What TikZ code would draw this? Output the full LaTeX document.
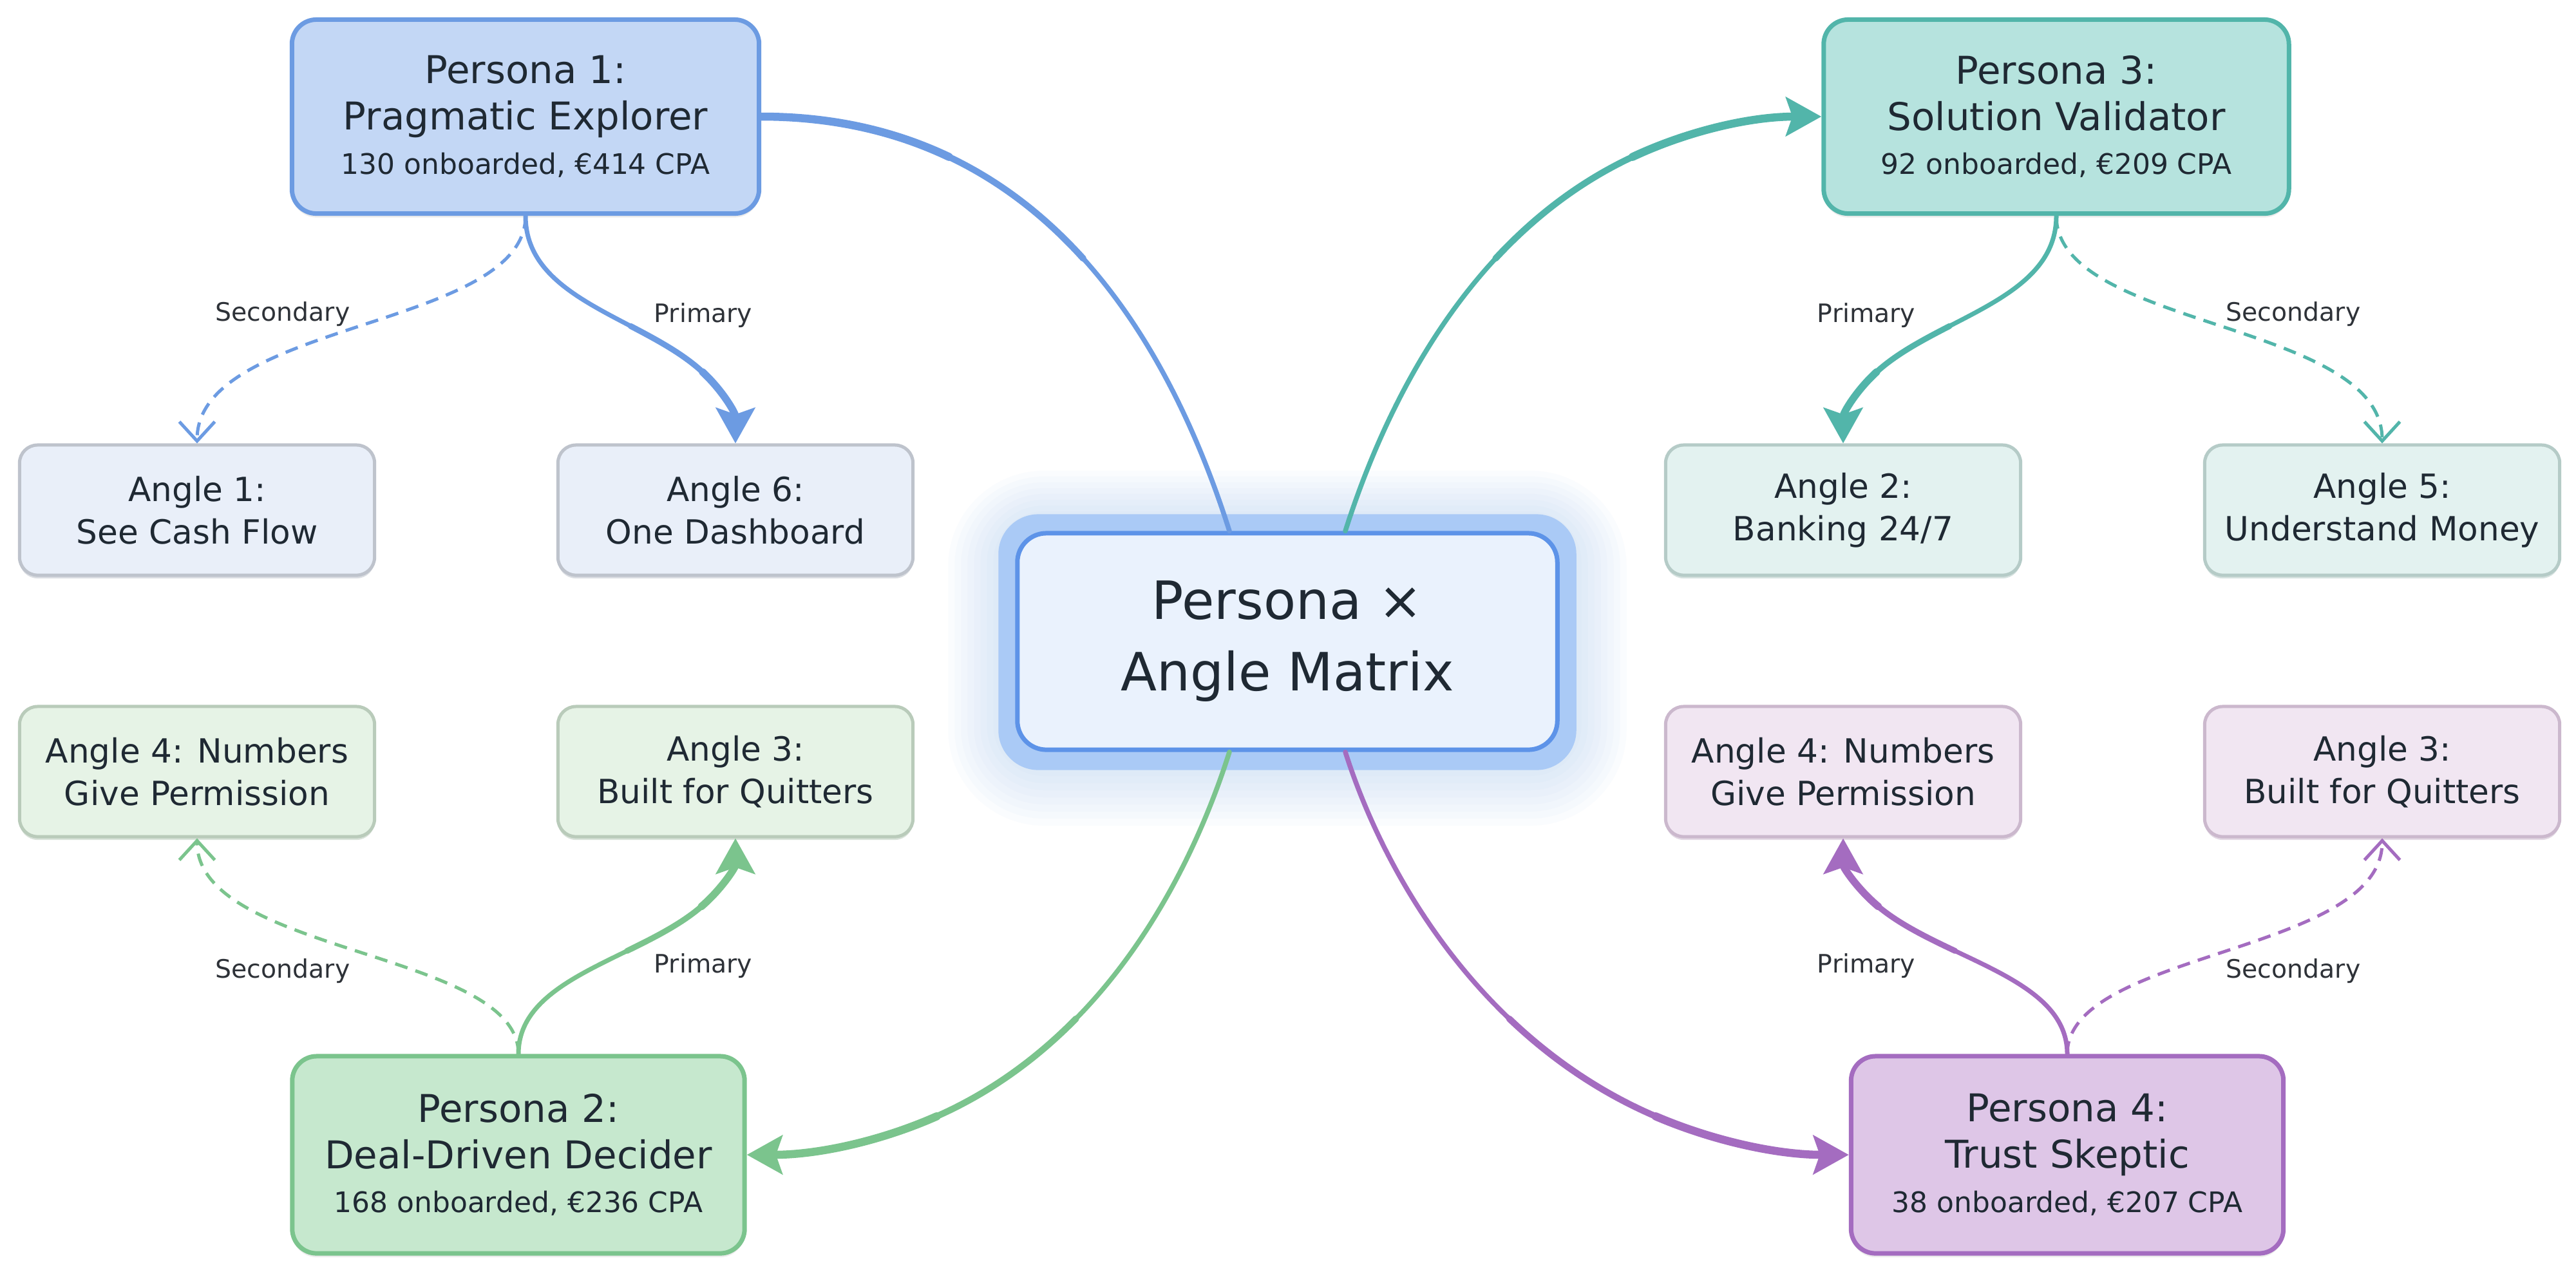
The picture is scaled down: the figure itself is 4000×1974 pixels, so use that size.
\documentclass[tikz,border=0pt]{standalone}
\usepackage{fontspec}
\setmainfont{DejaVu Sans}
\usetikzlibrary{arrows.meta,calc,shadows,backgrounds}

\definecolor{cblue}{HTML}{6C9BE2}
\definecolor{cteal}{HTML}{52B5AA}
\definecolor{cgreen}{HTML}{7BC48D}
\definecolor{cpurple}{HTML}{A46CC0}
\definecolor{fblue}{HTML}{C3D7F5}
\definecolor{fteal}{HTML}{B6E3DE}
\definecolor{fgreen}{HTML}{C6E8CE}
\definecolor{fpurple}{HTML}{DEC6E7}
\definecolor{afblue}{HTML}{E9EFF9}
\definecolor{abblue}{HTML}{BEC3CC}
\definecolor{afteal}{HTML}{E3F2F0}
\definecolor{abteal}{HTML}{B5CBC7}
\definecolor{afgreen}{HTML}{E6F3E6}
\definecolor{abgreen}{HTML}{B9CBBA}
\definecolor{afpurple}{HTML}{F1E6F2}
\definecolor{abpurple}{HTML}{CBB8CD}
\definecolor{cfill}{HTML}{EAF2FD}
\definecolor{cborder}{HTML}{5D93E8}
\definecolor{cglow}{HTML}{AACAF6}
\definecolor{txt}{HTML}{1F2933}
\definecolor{labtxt}{HTML}{2E3238}

\newcommand{\fPT}{\fontsize{16.9}{20.5}\selectfont}
\newcommand{\fPS}{\fontsize{12.5}{17}\selectfont}
\newcommand{\fAN}{\fontsize{14.7}{18.8}\selectfont}
\newcommand{\fCE}{\fontsize{23.3}{31.6}\selectfont}
\newcommand{\fLB}{\fontsize{11.2}{13}\selectfont}

% tapered cubic curve: #1 colour, #2 start, #3 c1, #4 c2, #5 end, #6-#8 widths, #9 extra options
\newcommand{\tcurve}[9]{%
  \coordinate (T0) at #2; \coordinate (T1) at #3; \coordinate (T2) at #4; \coordinate (T3) at #5;
  \coordinate (Ta) at ($(T0)!0.5!(T1)$);
  \coordinate (Tb) at ($(T1)!0.5!(T2)$);
  \coordinate (Tc) at ($(T2)!0.5!(T3)$);
  \coordinate (Td) at ($(Ta)!0.5!(Tb)$);
  \coordinate (Te) at ($(Tb)!0.5!(Tc)$);
  \coordinate (Tm) at ($(Td)!0.5!(Te)$);
  \coordinate (Ua) at ($(Tm)!0.5!(Te)$);
  \coordinate (Ub) at ($(Te)!0.5!(Tc)$);
  \coordinate (Uc) at ($(Tc)!0.5!(T3)$);
  \coordinate (Ud) at ($(Ua)!0.5!(Ub)$);
  \coordinate (Ue) at ($(Ub)!0.5!(Uc)$);
  \coordinate (Um) at ($(Ud)!0.5!(Ue)$);
  \draw[draw=#1, line width=#6, line cap=round] (T0) .. controls (Ta) and (Td) .. (Tm);
  \draw[draw=#1, line width=#7, line cap=round] (Tm) .. controls (Ua) and (Ud) .. (Um);
  \draw[draw=#1, line width=#8, line cap=round, #9] (Um) .. controls (Ue) and (Uc) .. (T3);
}

\tikzset{
  persona/.style 2 args={draw=#1, fill=#2, rounded corners=0.38cm, line width=0.07cm,
    align=center, text=txt, inner sep=0pt, font=\fPT,
    drop shadow={shadow xshift=0cm, shadow yshift=-0.06cm, opacity=0.15, fill=gray}},
  anglebox/.style 2 args={fill=#1, draw=#2, rounded corners=0.28cm, line width=0.05cm,
    minimum width=5.51cm, minimum height=2.02cm, align=center, text=txt, font=\fAN, inner sep=0pt,
    drop shadow={shadow xshift=0cm, shadow yshift=-0.05cm, opacity=0.55, fill=#2}},
  lab/.style={font=\fLB, text=labtxt, inner sep=0pt},
  mainarrow/.style={-{Stealth[length=0.55cm,width=0.6cm,inset=0.1cm]}},
  dashline/.style={line width=0.05cm, dash pattern=on 0.2cm off 0.13cm,
    -{Straight Barb[length=0.3cm,width=0.55cm]}},
}

\begin{document}
\begin{tikzpicture}[x=0.01cm, y=-0.01cm]
\useasboundingbox (0,0) rectangle (4000,1974);

% central node
\node[draw=cborder, fill=cfill, line width=0.07cm, rounded corners=0.45cm,
      minimum width=8.38cm, minimum height=3.36cm, align=center, text=txt, font=\fCE, inner sep=0pt]
      (c) at (1999,996) {Persona ×\\Angle Matrix};
\begin{scope}[on background layer]
  \fill[white] (0,0) rectangle (4000,1974);
  \foreach \d in {34,44,...,104} {
    \fill[cglow, opacity=0.05, rounded corners=0.45cm+\d*0.01cm]
      ($(c.south west)+(-\d,\d*1.1)$) rectangle ($(c.north east)+(\d,-\d*0.9)$);
  }
  \fill[cglow, rounded corners=0.62cm] ($(c.south west)+(-26,28)$) rectangle ($(c.north east)+(26,-26)$);
\end{scope}

% personas
\node[persona={cblue}{fblue}, minimum width=7.25cm, minimum height=3.01cm] (p1) at (816,181)
  {Persona 1:\\Pragmatic Explorer\\[-1pt]\fPS 130 onboarded, €414 CPA};
\node[persona={cteal}{fteal}, minimum width=7.22cm, minimum height=3.01cm] (p3) at (3193,181)
  {Persona 3:\\Solution Validator\\[-1pt]\fPS 92 onboarded, €209 CPA};
\node[persona={cgreen}{fgreen}, minimum width=7.02cm, minimum height=3.06cm] (p2) at (805,1793)
  {Persona 2:\\Deal-Driven Decider\\[-1pt]\fPS 168 onboarded, €236 CPA};
\node[persona={cpurple}{fpurple}, minimum width=6.71cm, minimum height=3.06cm] (p4) at (3210,1793)
  {Persona 4:\\Trust Skeptic\\[-1pt]\fPS 38 onboarded, €207 CPA};

% angles
\node[anglebox={afblue}{abblue}] (a1) at (306,792) {Angle 1:\\See Cash Flow};
\node[anglebox={afblue}{abblue}] (a6) at (1142,792) {Angle 6:\\One Dashboard};
\node[anglebox={afteal}{abteal}] (a2) at (2862,792) {Angle 2:\\Banking 24/7};
\node[anglebox={afteal}{abteal}] (a5) at (3699,792) {Angle 5:\\Understand Money};
\node[anglebox={afgreen}{abgreen}] (a4g) at (306,1198) {Angle 4: Numbers\\Give Permission};
\node[anglebox={afgreen}{abgreen}] (a3g) at (1142,1198) {Angle 3:\\Built for Quitters};
\node[anglebox={afpurple}{abpurple}] (a4p) at (2862,1198) {Angle 4: Numbers\\Give Permission};
\node[anglebox={afpurple}{abpurple}] (a3p) at (3699,1198) {Angle 3:\\Built for Quitters};

% labels
\node[lab] (l1s) at (439,488) {Secondary};
\node[lab] (l1p) at (1092,490) {Primary};
\node[lab] (l3p) at (2898,490) {Primary};
\node[lab] (l3s) at (3561,488) {Secondary};
\node[lab] (l2s) at (439,1508) {Secondary};
\node[lab] (l2p) at (1092,1500) {Primary};
\node[lab] (l4p) at (2898,1500) {Primary};
\node[lab] (l4s) at (3561,1508) {Secondary};

% main connectors from the centre
\tcurve{cblue}{($(c.north)+(-90,0)$)}{($(c.north)+(-176,-270)$)}{($(p1.east)+(450,0)$)}{(p1.east)}{0.075cm}{0.1cm}{0.125cm}{}
\tcurve{cteal}{($(c.north)+(90,0)$)}{($(c.north)+(176,-270)$)}{($(p3.west)+(-450,0)$)}{(p3.west)}{0.075cm}{0.1cm}{0.125cm}{mainarrow}
\tcurve{cgreen}{($(c.south)+(-90,0)$)}{($(c.south)+(-176,270)$)}{($(p2.east)+(450,0)$)}{(p2.east)}{0.075cm}{0.1cm}{0.125cm}{mainarrow}
\tcurve{cpurple}{($(c.south)+(90,0)$)}{($(c.south)+(176,270)$)}{($(p4.west)+(-450,0)$)}{(p4.west)}{0.075cm}{0.1cm}{0.125cm}{mainarrow}

% primary connectors
\tcurve{cblue}{(p1.south)}{($(p1.south)+(0,175)$)}{($(a6.north)+(0,-190)$)}{(a6.north)}{0.07cm}{0.09cm}{0.115cm}{mainarrow}
\tcurve{cteal}{(p3.south)}{($(p3.south)+(0,175)$)}{($(a2.north)+(0,-190)$)}{(a2.north)}{0.07cm}{0.09cm}{0.115cm}{mainarrow}
\tcurve{cgreen}{(p2.north)}{($(p2.north)+(0,-160)$)}{($(a3g.south)+(0,180)$)}{(a3g.south)}{0.07cm}{0.09cm}{0.115cm}{mainarrow}
\tcurve{cpurple}{(p4.north)}{($(p4.north)+(0,-160)$)}{($(a4p.south)+(0,180)$)}{(a4p.south)}{0.07cm}{0.09cm}{0.115cm}{mainarrow}

% secondary connectors
\draw[dashline, cblue] (p1.south) .. controls ($(p1.south)+(0,175)$) and ($(a1.north)+(0,-190)$) .. (a1.north);
\draw[dashline, cteal] (p3.south) .. controls ($(p3.south)+(0,175)$) and ($(a5.north)+(0,-190)$) .. (a5.north);
\draw[dashline, cgreen] (p2.north) .. controls ($(p2.north)+(0,-160)$) and ($(a4g.south)+(0,180)$) .. (a4g.south);
\draw[dashline, cpurple] (p4.north) .. controls ($(p4.north)+(0,-160)$) and ($(a3p.south)+(0,180)$) .. (a3p.south);
\end{tikzpicture}
\end{document}
